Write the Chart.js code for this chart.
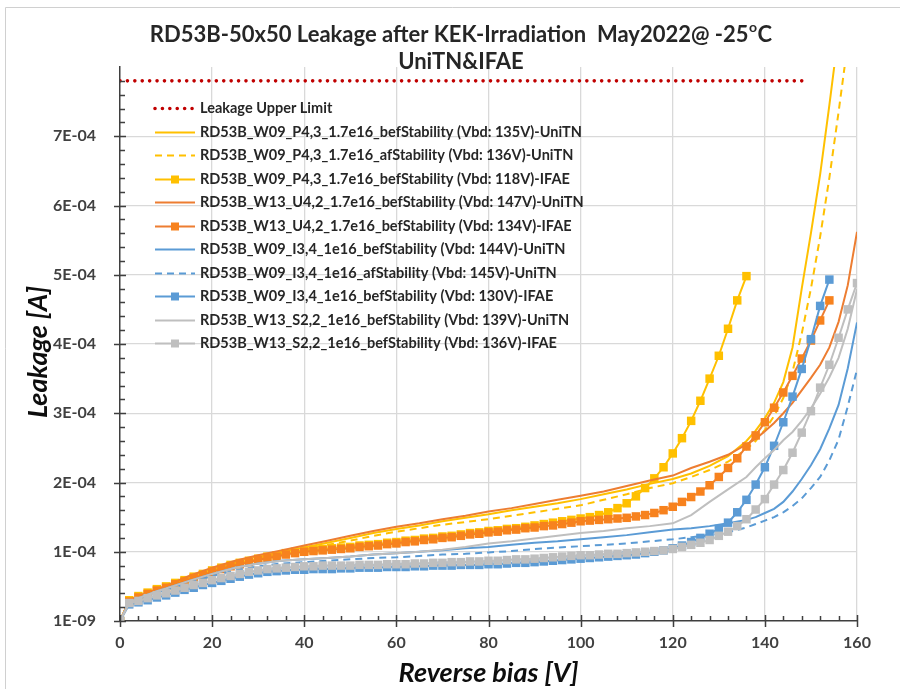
<!DOCTYPE html>
<html>
<head>
<meta charset="utf-8">
<script src="https://cdn.jsdelivr.net/npm/chart.js@4.4.1/dist/chart.umd.min.js"></script>
<style>
  html, body { margin: 0; padding: 0; background: #fff; }
  #wrap { width: 900px; height: 689px; position: relative; }
</style>
</head>
<body>
<div id="wrap"><canvas id="chart" width="900" height="689"></canvas></div>
<script>
// values are in units of 1E-04 A
const UNIT = 1e-4;

// UniTN sweeps
const voltsUni = [0, 2, 4, 6, 8, 10, 15, 20, 25, 30, 35, 40, 45, 50, 55, 60, 65, 70, 75, 80, 85, 90, 95, 100,
  105, 110, 115, 120, 124, 128, 132, 136, 138, 140, 142, 144, 146, 148, 150, 152, 154, 156, 158, 160];
const p43BefUni = [0, 0.29, 0.35, 0.40, 0.45, 0.50, 0.64, 0.76, 0.86, 0.94, 1.00, 1.06, 1.13, 1.20, 1.27, 1.33, 1.38, 1.44, 1.49, 1.54, 1.60, 1.65, 1.70, 1.76,
  1.83, 1.90, 1.98, 2.05, 2.13, 2.24, 2.38, 2.60, 2.75, 2.93, 3.15, 3.45, 3.95, 4.80, 5.60, 6.45, 7.45, 8.50, 9.60, 10.70];
const p43AfUni = [0, 0.28, 0.34, 0.39, 0.44, 0.49, 0.62, 0.74, 0.84, 0.91, 0.97, 1.03, 1.10, 1.16, 1.23, 1.29, 1.34, 1.39, 1.43, 1.47, 1.52, 1.57, 1.62, 1.67,
  1.75, 1.83, 1.92, 1.99, 2.08, 2.18, 2.30, 2.48, 2.60, 2.76, 2.96, 3.22, 3.60, 4.15, 4.80, 5.55, 6.40, 7.35, 8.35, 9.40];
const u42BefUni = [0, 0.30, 0.36, 0.41, 0.46, 0.51, 0.65, 0.77, 0.87, 0.95, 1.02, 1.09, 1.16, 1.23, 1.30, 1.36, 1.41, 1.47, 1.52, 1.58, 1.63, 1.69, 1.75, 1.81,
  1.87, 1.95, 2.03, 2.10, 2.21, 2.30, 2.40, 2.55, 2.63, 2.74, 2.86, 3.00, 3.15, 3.33, 3.51, 3.70, 3.95, 4.32, 4.85, 5.62];
const i34BefUni = [0, 0.27, 0.33, 0.38, 0.43, 0.47, 0.58, 0.68, 0.77, 0.83, 0.87, 0.89, 0.91, 0.93, 0.96, 0.98, 1.00, 1.02, 1.05, 1.07, 1.10, 1.13, 1.15, 1.18,
  1.21, 1.24, 1.28, 1.32, 1.34, 1.37, 1.41, 1.46, 1.50, 1.56, 1.62, 1.72, 1.87, 2.05, 2.25, 2.48, 2.78, 3.12, 3.65, 4.31];
const i34AfUni = [0, 0.26, 0.32, 0.37, 0.41, 0.45, 0.55, 0.65, 0.73, 0.79, 0.83, 0.85, 0.87, 0.89, 0.91, 0.92, 0.94, 0.96, 0.97, 0.99, 1.01, 1.04, 1.06, 1.08,
  1.10, 1.12, 1.15, 1.18, 1.21, 1.24, 1.28, 1.35, 1.40, 1.45, 1.50, 1.57, 1.66, 1.77, 1.92, 2.08, 2.32, 2.62, 3.10, 3.63];
const s22BefUni = [0, 0.27, 0.33, 0.38, 0.43, 0.47, 0.58, 0.68, 0.77, 0.83, 0.87, 0.89, 0.91, 0.93, 0.96, 0.98, 1.00, 1.03, 1.07, 1.12, 1.15, 1.19, 1.23, 1.27,
  1.30, 1.34, 1.37, 1.41, 1.53, 1.72, 1.90, 2.08, 2.22, 2.35, 2.47, 2.61, 2.73, 2.89, 3.07, 3.28, 3.52, 3.80, 4.22, 4.79];

// IFAE sweeps, 2 V steps
const voltsIfae = [0, 2, 4, 6, 8, 10, 12, 14, 16, 18, 20, 22, 24, 26, 28, 30, 32, 34, 36, 38, 40, 42, 44, 46, 48, 50, 52, 54, 56, 58,
  60, 62, 64, 66, 68, 70, 72, 74, 76, 78, 80, 82, 84, 86, 88, 90, 92, 94, 96, 98, 100, 102, 104, 106, 108, 110, 112, 114, 116, 118,
  120, 122, 124, 126, 128, 130, 132, 134, 136, 138, 140, 142, 144, 146, 148, 150, 152, 154, 156, 158, 160];
const p43BefIfae = [0, 0.30, 0.36, 0.41, 0.46, 0.50, 0.55, 0.59, 0.64, 0.68, 0.73, 0.77, 0.81, 0.84, 0.87, 0.90, 0.93, 0.95, 0.98, 1.00,
  1.02, 1.03, 1.04, 1.05, 1.06, 1.07, 1.09, 1.10, 1.11, 1.13, 1.14, 1.16, 1.17, 1.19, 1.20, 1.22, 1.23, 1.25, 1.27, 1.28,
  1.30, 1.31, 1.33, 1.34, 1.36, 1.38, 1.40, 1.42, 1.44, 1.46, 1.48, 1.50, 1.53, 1.57, 1.63, 1.70, 1.80, 1.92, 2.06, 2.22,
  2.42, 2.64, 2.89, 3.18, 3.50, 3.83, 4.22, 4.63, 4.98];
const u42BefIfae = [0, 0.28, 0.34, 0.39, 0.44, 0.48, 0.53, 0.57, 0.62, 0.66, 0.71, 0.75, 0.79, 0.82, 0.85, 0.88, 0.91, 0.93, 0.96, 0.98,
  1.00, 1.01, 1.02, 1.03, 1.04, 1.05, 1.07, 1.08, 1.09, 1.11, 1.12, 1.14, 1.15, 1.17, 1.18, 1.20, 1.21, 1.23, 1.25, 1.26,
  1.28, 1.29, 1.31, 1.32, 1.34, 1.35, 1.37, 1.38, 1.40, 1.42, 1.44, 1.45, 1.46, 1.47, 1.48, 1.49, 1.51, 1.53, 1.56, 1.60,
  1.65, 1.72, 1.79, 1.87, 1.96, 2.08, 2.21, 2.35, 2.52, 2.68, 2.87, 3.08, 3.30, 3.54, 3.79, 4.05, 4.34, 4.63];
const i34BefIfae = [0, 0.24, 0.27, 0.30, 0.34, 0.37, 0.41, 0.45, 0.48, 0.52, 0.55, 0.58, 0.61, 0.64, 0.67, 0.69, 0.71, 0.72, 0.73, 0.74,
  0.74, 0.75, 0.75, 0.75, 0.76, 0.76, 0.77, 0.77, 0.77, 0.78, 0.78, 0.78, 0.79, 0.79, 0.80, 0.80, 0.80, 0.81, 0.81, 0.81,
  0.82, 0.82, 0.83, 0.84, 0.84, 0.85, 0.86, 0.87, 0.88, 0.89, 0.90, 0.91, 0.92, 0.93, 0.94, 0.95, 0.96, 0.98, 1.00, 1.02,
  1.05, 1.09, 1.14, 1.20, 1.26, 1.33, 1.42, 1.57, 1.75, 1.97, 2.22, 2.53, 2.87, 3.24, 3.64, 4.07, 4.55, 4.93];
const s22BefIfae = [0, 0.26, 0.29, 0.33, 0.37, 0.40, 0.44, 0.48, 0.52, 0.55, 0.59, 0.62, 0.65, 0.68, 0.71, 0.73, 0.75, 0.76, 0.77, 0.78,
  0.79, 0.79, 0.80, 0.80, 0.80, 0.80, 0.81, 0.81, 0.81, 0.82, 0.82, 0.82, 0.83, 0.83, 0.84, 0.84, 0.85, 0.85, 0.86, 0.86,
  0.87, 0.87, 0.88, 0.89, 0.89, 0.90, 0.91, 0.92, 0.93, 0.94, 0.95, 0.95, 0.96, 0.97, 0.97, 0.98, 0.99, 1.00, 1.01, 1.02,
  1.04, 1.07, 1.10, 1.13, 1.17, 1.23, 1.29, 1.37, 1.47, 1.61, 1.76, 1.97, 2.18, 2.43, 2.72, 3.03, 3.37, 3.70, 4.09, 4.50, 4.88];

// upper limit
const voltsLimit = [0, 149];
const leakLimit = [7.8, 7.8];

// y tick labels
const yTickLabels = ['1E-09', '1E-04', '2E-04', '3E-04', '4E-04', '5E-04', '6E-04', '7E-04', ''];

const YELLOW = '#FFC000';
const ORANGE = '#ED7D31';
const ORANGE_SQ = '#F7821E';
const BLUE = '#5B9BD5';
const GREY = '#BFBFBF';
const DARKRED = '#C00000';
const AXIS = '#3F3F3F';
const GRID = '#D9D9D9';

function pts(xs, ys) {
    return ys.map((y, i) => ({ x: xs[i], y: y * UNIT }));
}

function lineSet(label, xs, ys, color, dash) {
    return {
        label, data: pts(xs, ys), borderColor: color, backgroundColor: color,
        borderWidth: 2, borderDash: dash || [], pointRadius: 0, pointHoverRadius: 0, tension: 0
    };
}

function squareSet(label, xs, ys, color, lineColor) {
    return {
        label, data: pts(xs, ys), borderColor: lineColor || color, backgroundColor: color,
        borderWidth: 2, pointStyle: 'rect', pointRadius: 6, pointBorderWidth: 0,
        pointBackgroundColor: color, pointHoverRadius: 6, tension: 0
    };
}

const datasets = [
    {
        label: 'Leakage Upper Limit', data: pts(voltsLimit, leakLimit), borderColor: DARKRED,
        borderWidth: 3.6, borderDash: [0.01, 7.4], borderCapStyle: 'round', pointRadius: 0
    },
    lineSet('RD53B_W09_P4,3_1.7e16_befStability (Vbd: 135V)-UniTN', voltsUni, p43BefUni, YELLOW),
    lineSet('RD53B_W09_P4,3_1.7e16_afStability (Vbd: 136V)-UniTN', voltsUni, p43AfUni, YELLOW, [7, 5]),
    squareSet('RD53B_W09_P4,3_1.7e16_befStability (Vbd: 118V)-IFAE', voltsIfae, p43BefIfae, YELLOW),
    lineSet('RD53B_W13_U4,2_1.7e16_befStability (Vbd: 147V)-UniTN', voltsUni, u42BefUni, ORANGE),
    squareSet('RD53B_W13_U4,2_1.7e16_befStability (Vbd: 134V)-IFAE', voltsIfae, u42BefIfae, ORANGE_SQ, ORANGE),
    lineSet('RD53B_W09_I3,4_1e16_befStability (Vbd: 144V)-UniTN', voltsUni, i34BefUni, BLUE),
    lineSet('RD53B_W09_I3,4_1e16_afStability (Vbd: 145V)-UniTN', voltsUni, i34AfUni, BLUE, [7, 5]),
    squareSet('RD53B_W09_I3,4_1e16_befStability (Vbd: 130V)-IFAE', voltsIfae, i34BefIfae, BLUE),
    lineSet('RD53B_W13_S2,2_1e16_befStability (Vbd: 139V)-UniTN', voltsUni, s22BefUni, GREY),
    squareSet('RD53B_W13_S2,2_1e16_befStability (Vbd: 136V)-IFAE', voltsIfae, s22BefIfae, GREY)
];
// later series on top, like the spreadsheet
datasets.forEach((d, i) => { d.order = -i; });

// titles, tick marks, legend and frame
const decor = {
    id: 'decor',
    beforeDraw(chart) {
        const ctx = chart.ctx;
        ctx.save();
        ctx.fillStyle = '#fff';
        ctx.fillRect(0, 0, chart.width, chart.height);
        ctx.strokeStyle = '#D0D0D0';
        ctx.lineWidth = 1;
        ctx.beginPath();
        ctx.moveTo(5.5, 689); ctx.lineTo(5.5, 7.5); ctx.lineTo(900, 7.5);
        ctx.stroke();
        ctx.restore();
    },
    afterDraw(chart) {
        const ctx = chart.ctx;
        const xs = chart.scales.x, ys = chart.scales.y;
        const area = chart.chartArea;
        ctx.save();

        // tick marks
        ctx.strokeStyle = AXIS;
        ctx.lineWidth = 1.5;
        ctx.beginPath();
        for (let v = 0; v <= 160; v += 4) {
            const px = Math.round(xs.getPixelForValue(v)) + 0.5;
            if (v % 20 === 0) { ctx.moveTo(px, area.bottom - 6); ctx.lineTo(px, area.bottom + 6); }
            else { ctx.moveTo(px, area.bottom); ctx.lineTo(px, area.bottom - 5); }
        }
        for (let k = 0; k <= 40; k++) {
            const py = Math.round(ys.getPixelForValue(k * 0.2 * UNIT)) + 0.5;
            if (k % 5 === 0) { if (k < 40) { ctx.moveTo(area.left - 6, py); ctx.lineTo(area.left + 6, py); } }
            else { ctx.moveTo(area.left, py); ctx.lineTo(area.left + 5, py); }
        }
        ctx.stroke();

        // chart title
        ctx.fillStyle = '#262626';
        ctx.textBaseline = 'alphabetic';
        const big = 'bold 22px Lato', small = 'bold 14px Lato';
        const main = 'RD53B-50x50 Leakage after KEK-Irradiation  May2022@ -25';
        ctx.font = big;
        const w1 = ctx.measureText(main).width, wC = ctx.measureText('C').width;
        ctx.font = small;
        const wo = ctx.measureText('o').width;
        let x0 = 461 - (w1 + wo + 1 + wC) / 2;
        ctx.font = big; ctx.textAlign = 'left';
        ctx.fillText(main, x0, 42);
        ctx.font = small;
        ctx.fillText('o', x0 + w1 + 0.5, 32);
        ctx.font = big;
        ctx.fillText('C', x0 + w1 + wo + 1, 42);
        ctx.textAlign = 'center';
        ctx.fillText('UniTN&IFAE', 461, 69);

        // axis titles
        ctx.fillStyle = '#0D0D0D';
        ctx.font = 'italic bold 27px Lato';
        ctx.textAlign = 'center';
        ctx.textBaseline = 'middle';
        ctx.fillText('Reverse bias [V]', (area.left + area.right) / 2, 673);
        ctx.save();
        ctx.translate(38, 352);
        ctx.rotate(-Math.PI / 2);
        ctx.fillText('Leakage [A]', 0, 0);
        ctx.restore();

        // legend
        ctx.font = 'bold 14.5px Lato';
        ctx.textAlign = 'left';
        ctx.textBaseline = 'middle';
        chart.data.datasets.forEach((d, i) => {
            const y = Math.round(108 + i * 23.5) + 0.5;
            ctx.save();
            ctx.strokeStyle = d.borderColor;
            ctx.lineWidth = d.borderWidth;
            ctx.lineCap = d.borderCapStyle || 'butt';
            ctx.setLineDash(d.borderDash || []);
            ctx.beginPath();
            ctx.moveTo(155, y); ctx.lineTo(195, y);
            ctx.stroke();
            if (d.pointStyle === 'rect') {
                ctx.fillStyle = d.pointBackgroundColor;
                ctx.fillRect(175 - 4, y - 4, 8, 8);
            }
            ctx.restore();
            ctx.fillStyle = '#262626';
            ctx.fillText(d.label, 200, y);
        });
        ctx.restore();
    }
};

new Chart(document.getElementById('chart'), {
    type: 'line',
    data: { datasets },
    plugins: [decor],
    options: {
        responsive: false,
        animation: false,
        devicePixelRatio: 1,
        layout: { padding: { top: 67, right: 43, left: 0, bottom: 0 } },
        plugins: { legend: { display: false }, title: { display: false }, tooltip: { enabled: false } },
        scales: {
            x: {
                type: 'linear', min: 0, max: 160,
                afterFit: (s) => { s.height = 68; },
                ticks: { stepSize: 20, color: '#404040', font: { family: 'Lato', size: 16, weight: 'bold' }, padding: 12, maxRotation: 0 },
                grid: { drawTicks: false, color: (c) => (c.tick && c.tick.value === 0 ? 'rgba(0,0,0,0)' : GRID), lineWidth: 1.3 },
                border: { color: AXIS, width: 1.5 }
            },
            y: {
                type: 'linear', min: 0, max: 8 * UNIT,
                afterFit: (s) => { s.width = 120; },
                ticks: {
                    stepSize: UNIT, color: '#404040', padding: 24,
                    font: { family: 'Lato', size: 16, weight: 'bold' },
                    callback: (v) => yTickLabels[Math.round(v / UNIT)]
                },
                grid: {
                    drawTicks: false, lineWidth: 1.3,
                    color: (c) => {
                        const k = c.tick ? Math.round(c.tick.value / UNIT) : 0;
                        return (k === 0 || k === 8) ? 'rgba(0,0,0,0)' : GRID;
                    }
                },
                border: { color: AXIS, width: 1.5 }
            }
        }
    }
});
</script>
</body>
</html>
